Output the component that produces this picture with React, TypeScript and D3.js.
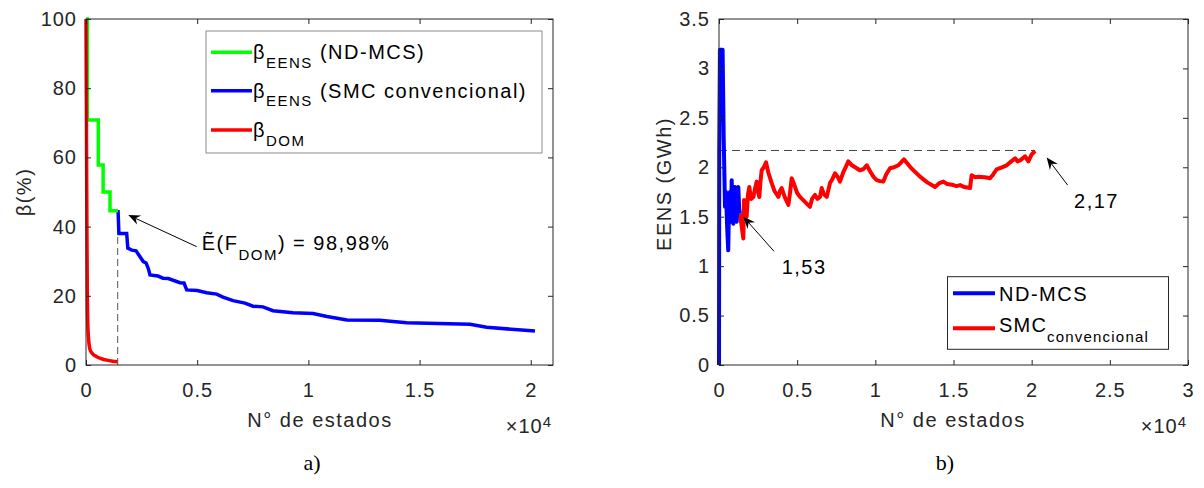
import React, { useEffect, useRef } from 'react';
import * as d3 from 'd3';

type Pt = [number, number];

// ---------- panel a) : beta vs number of states ----------
const betaNdmcs: Pt[] = [
  [0, 100], [60, 100], [60, 70.8], [553, 70.8], [553, 57.8], [770, 57.8], [770, 50],
  [1080, 50], [1080, 44.6], [1440, 44.6],
];
const betaSmc: Pt[] = [
  [1440, 44.8], [1480, 38], [1830, 38], [1880, 33.8], [2055, 33.2], [2250, 33.0], [2428, 31.3],
  [2576, 29.9], [2700, 29.5], [2801, 27.9], [2878, 26], [3237, 25.7], [3462, 25.1], [3700, 25.0],
  [4227, 23.8], [4406, 23.7], [4528, 21.7], [5000, 21.5], [5427, 20.9], [5877, 20.5], [6160, 19.6],
  [6610, 18.6], [7149, 17.9], [7509, 17], [7959, 16.8], [8408, 15.7], [9307, 15.1], [10207, 14.9],
  [10836, 14], [11736, 13], [13200, 12.9], [14420, 12.2], [17266, 11.8], [18017, 10.9], [20189, 9.8],
];
const betaDom: Pt[] = [
  [0, 100], [20, 70], [40, 40], [60, 20], [80, 12], [110, 8], [180, 4.5], [300, 3.2],
  [480, 2.4], [700, 1.8], [930, 1.4], [1200, 1.1], [1420, 0.95],
];
const xTicksA = [0, 5000, 10000, 15000, 20000];
const yTicksA = [0, 20, 40, 60, 80, 100];
const cutStatesA = 1425;
const cutBetaA = 44.8;

// ---------- panel b) : EENS vs number of states ----------
const eensNdmcs: Pt[] = [
  [0, 0], [15, 2.16], [60, 3.19], [230, 3.19], [300, 2.3], [384, 1.6], [450, 1.75], [520, 1.4],
  [590, 1.16], [640, 1.6], [700, 1.75], [760, 1.45], [812, 1.87], [860, 1.55], [915, 1.43],
  [970, 1.8], [1023, 1.8], [1080, 1.5], [1132, 1.45], [1190, 1.78], [1235, 1.8], [1290, 1.58],
  [1340, 1.53],
];
const eensSmc: Pt[] = [
  [1340, 1.53], [1450, 1.4], [1556, 1.28], [1600, 1.67], [1680, 1.55], [1770, 1.5], [1850, 1.72],
  [1940, 1.8], [2050, 1.68], [2200, 1.7], [2300, 1.78], [2410, 1.855], [2500, 1.75], [2580, 1.7],
  [2650, 1.85], [2730, 1.97], [2870, 2.0], [3010, 2.05], [3150, 1.95], [3370, 1.84], [3550, 1.76],
  [3800, 1.7], [3900, 1.76], [4010, 1.79], [4200, 1.7], [4440, 1.62], [4550, 1.75], [4650, 1.89],
  [4800, 1.83], [5000, 1.74], [5180, 1.7], [5500, 1.65], [5820, 1.6], [5950, 1.68], [6140, 1.72],
  [6300, 1.68], [6460, 1.7], [6570, 1.79], [6700, 1.73], [6890, 1.7], [7100, 1.84], [7250, 1.88],
  [7420, 1.94], [7600, 1.9], [7740, 1.855], [7950, 1.95], [8100, 2.0], [8270, 2.06], [8500, 2.02],
  [8810, 1.99], [9000, 1.97], [9230, 1.98], [9450, 2.02], [9700, 1.95], [9900, 1.9], [10090, 1.87],
  [10300, 1.86], [10510, 1.855], [10700, 1.93], [10940, 1.99], [11200, 2.0], [11470, 2.02],
  [11650, 2.05], [11830, 2.08], [12300, 1.99], [12860, 1.905], [13300, 1.85], [13820, 1.8],
  [14100, 1.84], [14350, 1.855], [14600, 1.83], [14990, 1.82], [15200, 1.81], [15420, 1.82],
  [15700, 1.8], [16060, 1.79], [16160, 1.92], [16400, 1.9], [16590, 1.905], [17000, 1.9],
  [17340, 1.89], [17550, 1.93], [17760, 1.98], [18100, 2.0], [18400, 2.02], [18700, 2.06],
  [18940, 2.09], [19100, 2.06], [19260, 2.07], [19580, 2.11], [19790, 2.06], [20000, 2.13],
  [20220, 2.165],
];
const xTicksB = [0, 5000, 10000, 15000, 20000, 25000, 30000];
const yTicksB = [0, 0.5, 1, 1.5, 2, 2.5, 3, 3.5];
const finalEens = 2.17;
const finalStatesB = 20220;

const FONT = "'Liberation Sans', Arial, Helvetica, sans-serif";
const AXIS = '#262626';

type Part = { t: string; sub?: boolean; sup?: boolean };

function rich(g: any, x: number, y: number, parts: Part[], opt: any = {}) {
  const size = opt.size ?? 20;
  const small = opt.small ?? 15;
  const subOff = opt.subOff ?? 8.5;
  const supOff = opt.supOff ?? -6;
  const text = g.append('text')
    .attr('transform', `translate(${x},${y})${opt.rotate ? ` rotate(${opt.rotate})` : ''}`)
    .attr('font-family', opt.family ?? FONT)
    .attr('font-size', size)
    .attr('text-anchor', opt.anchor ?? 'start')
    .attr('fill', opt.fill ?? '#000')
    .style('letter-spacing', `${opt.spacing ?? 1.5}px`)
    .style('white-space', 'pre');
  let shift = 0;
  parts.forEach((p) => {
    const target = p.sub ? subOff : p.sup ? supOff : 0;
    const ts = text.append('tspan').attr('dy', target - shift).text(p.t);
    if (p.sub || p.sup) ts.attr('font-size', small);
    shift = target;
  });
  return text;
}

function arrow(g: any, x1: number, y1: number, x2: number, y2: number) {
  const ang = Math.atan2(y2 - y1, x2 - x1);
  const dx = Math.cos(ang), dy = Math.sin(ang);
  const L = 12, hw = 5, notch = 8;
  g.append('line')
    .attr('x1', x1).attr('y1', y1)
    .attr('x2', x2 - dx * notch).attr('y2', y2 - dy * notch)
    .attr('stroke', '#000').attr('stroke-width', 1);
  const pts = [
    [x2, y2],
    [x2 - dx * L - dy * hw, y2 - dy * L + dx * hw],
    [x2 - dx * notch, y2 - dy * notch],
    [x2 - dx * L + dy * hw, y2 - dy * L - dx * hw],
  ];
  g.append('polygon').attr('points', pts.map((p) => p.join(',')).join(' ')).attr('fill', '#000');
}

function drawAxes(g: any, x: any, y: any, xTicks: number[], yTicks: number[], yFmt: (v: number) => string) {
  const [x0, x1] = x.range();
  const [yb, yt] = y.range();
  const ax = (a: any) => a.tickSizeOuter(0);
  g.append('g').attr('transform', `translate(0,${yb})`)
    .call(ax(d3.axisBottom(x).tickValues(xTicks).tickSize(-5).tickPadding(0).tickFormat((d: any) => d3.format('')(d / 10000))));
  g.append('g').attr('transform', `translate(0,${yt})`)
    .call(ax(d3.axisTop(x).tickValues(xTicks).tickSize(-5).tickFormat(() => '')));
  g.append('g').attr('transform', `translate(${x0},0)`)
    .call(ax(d3.axisLeft(y).tickValues(yTicks).tickSize(-5).tickPadding(9).tickFormat((d: any) => yFmt(d))));
  g.append('g').attr('transform', `translate(${x1},0)`)
    .call(ax(d3.axisRight(y).tickValues(yTicks).tickSize(-5).tickFormat(() => '')));
  g.selectAll('.domain').remove();
  g.selectAll('.tick line').attr('stroke', AXIS);
  g.selectAll('.tick text')
    .attr('font-family', FONT).attr('font-size', 20).attr('fill', AXIS)
    .style('letter-spacing', '1px');
  g.selectAll('.tick text').filter(function (this: any) {
    return this.parentNode.parentNode.getAttribute('transform') === `translate(0,${yb})`;
  }).attr('y', 32).attr('dy', null);
  g.append('rect')
    .attr('x', x0).attr('y', yt).attr('width', x1 - x0).attr('height', yb - yt)
    .attr('fill', 'none').attr('stroke', AXIS).attr('stroke-width', 1);
}

export default function App() {
  const ref = useRef<SVGSVGElement>(null);

  useEffect(() => {
    const svg = d3.select(ref.current);
    svg.selectAll('*').remove();

    // ---------------- panel a) ----------------
    const xa = d3.scaleLinear().domain([0, 21000]).range([86, 553]);
    const ya = d3.scaleLinear().domain([0, 100]).range([365, 19]);
    const ga = svg.append('g');
    const lineA = d3.line<Pt>().x((d) => xa(d[0])).y((d) => ya(d[1]));

    ga.append('line')
      .attr('x1', xa(cutStatesA)).attr('x2', xa(cutStatesA))
      .attr('y1', ya(0)).attr('y2', ya(cutBetaA))
      .attr('stroke', '#555').attr('stroke-width', 1).attr('stroke-dasharray', '7,4');
    ga.append('path').attr('d', lineA(betaSmc)).attr('fill', 'none').attr('stroke', '#0000ff').attr('stroke-width', 3.5);
    ga.append('path').attr('d', lineA(betaNdmcs)).attr('fill', 'none').attr('stroke', '#00ff00').attr('stroke-width', 3.5);
    ga.append('path').attr('d', d3.line<Pt>().x((d) => xa(d[0])).y((d) => ya(d[1])).curve(d3.curveMonotoneX)(betaDom))
      .attr('fill', 'none').attr('stroke', '#ff0000').attr('stroke-width', 3.5);

    drawAxes(ga, xa, ya, xTicksA, yTicksA, (v) => String(v));

    rich(ga, 31, 192, [{ t: 'β(%)' }], { rotate: -90, anchor: 'middle', fill: AXIS });
    rich(ga, 320, 427, [{ t: 'N° de estados' }], { anchor: 'middle', fill: AXIS });
    rich(ga, 552, 433, [{ t: '×10' }, { t: '4', sup: true }], { anchor: 'end', fill: AXIS, spacing: 1 });

    // annotation
    arrow(ga, xa(4977), ya(34.2), xa(1902), ya(43.35));
    rich(ga, xa(5202), ya(33.2), [{ t: 'Ẽ(F' }, { t: 'DOM', sub: true }, { t: ') = 98,98%' }], { subOff: 10 });

    // legend a)
    const la = ga.append('g');
    la.append('rect').attr('x', 206).attr('y', 31).attr('width', 336).attr('height', 122)
      .attr('fill', '#fff').attr('stroke', '#8c8c8c').attr('stroke-width', 1);
    const legA = [
      { c: '#00ff00', parts: [{ t: 'β' }, { t: 'EENS', sub: true }, { t: ' (ND-MCS)' }], y: 52.3 },
      { c: '#0000ff', parts: [{ t: 'β' }, { t: 'EENS', sub: true }, { t: ' (SMC convencional)' }], y: 90.7 },
      { c: '#ff0000', parts: [{ t: 'β' }, { t: 'DOM', sub: true }], y: 130 },
    ];
    legA.forEach((d) => {
      la.append('line').attr('x1', 211).attr('x2', 252).attr('y1', d.y).attr('y2', d.y)
        .attr('stroke', d.c).attr('stroke-width', 3.5);
      rich(la, 253, d.y + 7, d.parts, { spacing: 1.5 });
    });

    // ---------------- panel b) ----------------
    const xb = d3.scaleLinear().domain([0, 30000]).range([719, 1188]);
    const yb = d3.scaleLinear().domain([0, 3.5]).range([365, 19]);
    const gb = svg.append('g');
    const lineB = d3.line<Pt>().x((d) => xb(d[0])).y((d) => yb(d[1]));

    gb.append('line')
      .attr('x1', xb(0)).attr('x2', xb(finalStatesB))
      .attr('y1', yb(finalEens)).attr('y2', yb(finalEens))
      .attr('stroke', '#444').attr('stroke-width', 1).attr('stroke-dasharray', '8,5');
    gb.append('path').attr('d', lineB(eensSmc)).attr('fill', 'none').attr('stroke', '#ff0000')
      .attr('stroke-width', 4).attr('stroke-linejoin', 'round');
    gb.append('path').attr('d', lineB(eensNdmcs)).attr('fill', 'none').attr('stroke', '#0000ff')
      .attr('stroke-width', 4).attr('stroke-linejoin', 'round');

    drawAxes(gb, xb, yb, xTicksB, yTicksB, (v) => String(v));

    rich(gb, 671, 184, [{ t: 'EENS (GWh)' }], { rotate: -90, anchor: 'middle', fill: AXIS });
    rich(gb, 953, 427, [{ t: 'N° de estados' }], { anchor: 'middle', fill: AXIS });
    rich(gb, 1187, 433, [{ t: '×10' }, { t: '4', sup: true }], { anchor: 'end', fill: AXIS, spacing: 1 });

    arrow(gb, xb(3520), yb(1.15), xb(1556), yb(1.5));
    rich(gb, xb(4010), yb(0.92), [{ t: '1,53' }]);
    arrow(gb, xb(22300), yb(1.82), xb(20960), yb(2.1));
    rich(gb, xb(22710), yb(1.585), [{ t: '2,17' }]);

    // legend b)
    const lb = gb.append('g');
    lb.append('rect').attr('x', 947.5).attr('y', 276.7).attr('width', 221).attr('height', 72.6)
      .attr('fill', '#fff').attr('stroke', AXIS).attr('stroke-width', 1);
    lb.append('line').attr('x1', 953).attr('x2', 995).attr('y1', 293.3).attr('y2', 293.3)
      .attr('stroke', '#0000ff').attr('stroke-width', 4);
    rich(lb, 999, 301, [{ t: 'ND-MCS' }]);
    lb.append('line').attr('x1', 953).attr('x2', 995).attr('y1', 328.3).attr('y2', 328.3)
      .attr('stroke', '#ff0000').attr('stroke-width', 4);
    rich(lb, 999, 331.7, [{ t: 'SMC' }, { t: 'convencional', sub: true }], { subOff: 10, spacing: 1.2 });

    // captions
    rich(svg, 312, 470, [{ t: 'a)' }], { family: "'Liberation Serif', 'Times New Roman', serif", size: 22, anchor: 'middle', spacing: 0 });
    rich(svg, 945, 470, [{ t: 'b)' }], { family: "'Liberation Serif', 'Times New Roman', serif", size: 22, anchor: 'middle', spacing: 0 });
  }, []);

  return (
    <svg
      ref={ref}
      width={1204}
      height={488}
      style={{ position: 'absolute', left: 0, top: 0, background: '#fff' }}
    />
  );
}
